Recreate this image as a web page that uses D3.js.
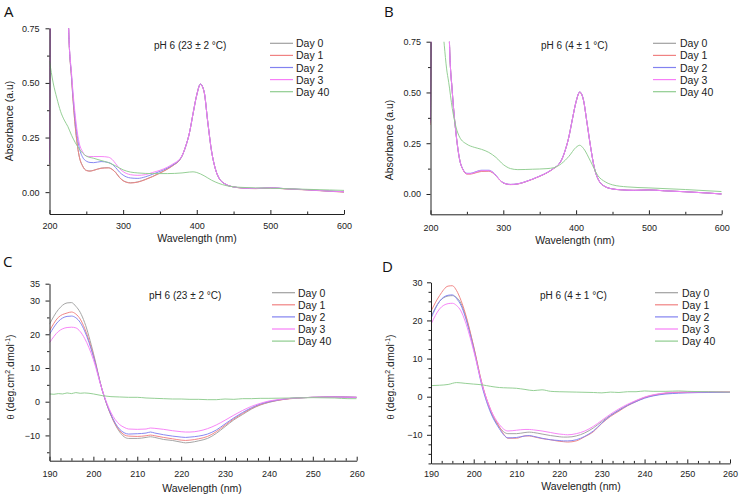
<!DOCTYPE html>
<html><head><meta charset="utf-8">
<script src="https://cdn.jsdelivr.net/npm/d3@7"></script>
<style>
body{margin:0;background:#fff;}
svg{display:block;font-family:"Liberation Sans",Arial,sans-serif;}
</style></head>
<body><svg id="chart" width="740" height="499"></svg>
<script>
// ---------------- DATA ----------------
const seriesNames = ["Day 0","Day 1","Day 2","Day 3","Day 40"];
const seriesColors = ["#a0a0a0","#f08282","#8282f0","#f77ff7","#8fcc8f"];

// UV-Vis wavelength grid (nm) for Day 0-3
const wlUV = [200,202,224,226,230,235,240,245,250,255,260,270,280,285,290,295,300,310,320,330,340,350,360,370,375,380,385,390,395,400,405,410,415,420,425,430,440,450,460,480,500,520,550,580,600];

// Panel A: pH 6 (23 ± 2 °C), absorbance
const absA_day0 = [0.13,1.2,1.2,0.75,0.52,0.30,0.17,0.12,0.10,0.097,0.10,0.11,0.112,0.105,0.09,0.068,0.053,0.043,0.047,0.058,0.072,0.088,0.106,0.128,0.14,0.165,0.21,0.27,0.36,0.445,0.495,0.46,0.32,0.19,0.11,0.065,0.034,0.024,0.02,0.017,0.02,0.016,0.011,0.005,0.001];
const absA_day1 = [0.12,1.2,1.2,0.75,0.52,0.30,0.17,0.119,0.099,0.096,0.10,0.109,0.111,0.104,0.089,0.067,0.052,0.042,0.046,0.057,0.071,0.087,0.105,0.127,0.14,0.166,0.21,0.27,0.36,0.445,0.493,0.458,0.32,0.19,0.11,0.066,0.035,0.024,0.019,0.016,0.019,0.015,0.01,0.004,0.0];
const absA_day2 = [0.13,1.2,1.2,0.75,0.53,0.33,0.21,0.16,0.142,0.136,0.135,0.14,0.136,0.128,0.112,0.092,0.078,0.065,0.063,0.07,0.082,0.095,0.11,0.13,0.142,0.166,0.21,0.27,0.36,0.445,0.494,0.46,0.32,0.19,0.11,0.066,0.035,0.024,0.02,0.017,0.02,0.016,0.011,0.005,0.002];
const absA_day3 = [0.14,1.2,1.2,0.75,0.54,0.35,0.23,0.185,0.165,0.163,0.163,0.163,0.16,0.15,0.13,0.108,0.094,0.08,0.077,0.08,0.09,0.10,0.114,0.134,0.145,0.167,0.21,0.27,0.36,0.445,0.494,0.46,0.32,0.19,0.11,0.066,0.035,0.024,0.02,0.017,0.02,0.016,0.011,0.005,0.002];
const wlA_day40 = [200,205,210,215,220,225,230,240,250,260,270,280,290,300,310,320,340,360,380,390,395,400,410,420,430,440,460,500,550,580,600];
const absA_day40 = [0.60,0.50,0.43,0.37,0.33,0.30,0.26,0.20,0.165,0.155,0.145,0.135,0.12,0.102,0.092,0.088,0.085,0.085,0.088,0.092,0.093,0.09,0.075,0.055,0.04,0.03,0.022,0.018,0.013,0.01,0.008];

// Panel B: pH 6 (4 ± 1 °C), absorbance
const absB_day0 = [0.35,1.2,1.2,0.75,0.50,0.30,0.17,0.118,0.10,0.10,0.104,0.113,0.114,0.107,0.09,0.07,0.055,0.047,0.05,0.06,0.073,0.088,0.105,0.128,0.142,0.168,0.215,0.28,0.37,0.455,0.503,0.465,0.35,0.23,0.13,0.075,0.036,0.025,0.021,0.018,0.02,0.016,0.011,0.005,0.0];
const absB_day1 = [0.34,1.2,1.2,0.75,0.50,0.30,0.17,0.117,0.098,0.098,0.102,0.111,0.112,0.105,0.089,0.069,0.054,0.046,0.049,0.059,0.072,0.087,0.104,0.127,0.141,0.167,0.214,0.28,0.37,0.455,0.500,0.463,0.35,0.23,0.13,0.075,0.036,0.025,0.021,0.018,0.02,0.016,0.011,0.005,0.0];
const absB_day2 = [0.36,1.2,1.2,0.75,0.50,0.30,0.17,0.119,0.102,0.102,0.107,0.117,0.117,0.109,0.091,0.07,0.055,0.047,0.05,0.06,0.073,0.088,0.105,0.128,0.142,0.168,0.215,0.28,0.37,0.455,0.502,0.465,0.35,0.23,0.13,0.075,0.036,0.025,0.021,0.018,0.02,0.016,0.011,0.005,0.0];
const absB_day3 = [0.35,1.2,1.2,0.75,0.50,0.30,0.17,0.118,0.10,0.10,0.105,0.115,0.115,0.108,0.09,0.07,0.055,0.047,0.05,0.06,0.073,0.088,0.105,0.128,0.142,0.168,0.215,0.28,0.37,0.455,0.502,0.465,0.35,0.23,0.13,0.075,0.036,0.025,0.021,0.018,0.02,0.016,0.011,0.005,0.0];
const wlB_day40 = [216,219,222,225,230,235,240,250,260,270,280,290,300,310,320,340,360,370,380,390,400,405,410,420,430,440,450,470,500,550,600];
const absB_day40 = [0.85,0.73,0.62,0.55,0.42,0.33,0.28,0.245,0.23,0.22,0.205,0.18,0.145,0.125,0.12,0.122,0.125,0.13,0.15,0.185,0.23,0.24,0.225,0.16,0.09,0.06,0.045,0.035,0.03,0.022,0.012];

// CD wavelength grid (nm) for Day 0-3
const wlCD = [190,192,194,195,196,197,198,200,202,204,206,207,208,210,212,213,214,216,218,220,221,222,224,226,228,230,232,234,236,238,240,242,245,248,250,255,260];

// Panel C: pH 6 (23 ± 2 °C), ellipticity
const cdC_day0 = [23,27.3,29.3,29.4,28.3,26.5,23.5,14.4,3.5,-4,-9,-10.4,-10.9,-10.9,-10.6,-10.4,-10.6,-11.2,-11.5,-12,-12.2,-12.1,-11.6,-10.9,-9.4,-7.4,-5.4,-3.8,-2.2,-1,-0.2,0.4,1,1.2,1.3,1.5,1.3];
const cdC_day1 = [21,25,26.3,26.6,26,24.5,21.8,13.8,3.5,-4,-8.6,-9.8,-10.2,-10.3,-10.1,-9.9,-10.1,-10.6,-11,-11.4,-11.5,-11.4,-11,-10.3,-8.9,-7,-5.1,-3.5,-2,-0.9,-0.1,0.4,0.9,1.2,1.3,1.4,1.3];
const cdC_day2 = [20,23.8,25.3,25.4,24.9,23.5,21,13.4,3.5,-3.8,-8.2,-9.2,-9.6,-9.5,-9.3,-9,-9.3,-9.8,-10.2,-10.5,-10.6,-10.5,-10.2,-9.6,-8.4,-6.6,-4.8,-3.2,-1.8,-0.7,0,0.5,1,1.2,1.3,1.4,1.3];
const cdC_day3 = [17.5,20.8,22,22.1,21.9,20.8,18.8,12.5,3.5,-3.2,-6.8,-7.6,-8.1,-8.2,-8.1,-7.8,-7.9,-8.2,-8.6,-8.9,-9,-9,-8.7,-8,-6.9,-5.5,-4,-2.6,-1.4,-0.5,0.2,0.6,1,1.2,1.3,1.4,1.3];
const wlC_day40 = [190,191,192,193,194,195,196,197,198,200,202,204,206,208,210,212,214,216,218,220,222,224,226,228,230,232,234,236,238,240,245,250,255,258,260];
const cdC_day40 = [2.3,2.2,2.4,2.3,2.6,2.4,2.7,2.5,2.6,2.3,1.8,1.5,1.4,1.3,1.3,1.1,1.0,0.9,0.8,0.8,0.7,0.7,0.6,0.6,0.8,0.7,0.9,0.9,1.0,1.0,1.1,1.2,1.1,0.9,0.9];

// Panel D: pH 6 (4 ± 1 °C), ellipticity
const cdD_day0 = [21,25,26.4,26.5,26,24.5,21.5,13,3,-4,-8,-9.2,-9.7,-9.7,-9.4,-9.3,-9.4,-9.8,-10.2,-10.5,-10.6,-10.6,-10.3,-9.5,-8.2,-6.5,-4.9,-3.5,-2.2,-1.1,-0.2,0.4,0.9,1.1,1.2,1.2,1.2];
const cdD_day1 = [22.4,26.5,29,29.1,27.8,25.3,22,13.1,3.2,-3.5,-7.9,-9.8,-10.9,-10.9,-10.3,-10.3,-10.5,-11,-11.3,-11.7,-11.8,-11.9,-11.6,-10.5,-9.2,-7,-5.2,-3.8,-2.4,-1.3,-0.3,0.3,0.9,1.1,1.1,1.2,1.2];
const cdD_day2 = [20.5,25,26.6,26.7,25.7,24,21,12.5,2.5,-4.3,-8.4,-10,-10.8,-10.7,-10.3,-10.2,-10.4,-10.9,-11.3,-11.5,-11.6,-11.6,-11.3,-10.4,-9,-6.9,-5,-3.6,-2.3,-1.3,-0.4,0.2,0.7,0.9,1,1.1,1.1];
const cdD_day3 = [19,23,24.4,24.5,23.9,22.5,19.8,12,3,-3.5,-7.3,-8.5,-9,-8.8,-8.6,-8.6,-8.7,-9,-9.4,-9.8,-9.9,-10,-9.7,-9,-7.8,-6.2,-4.6,-3.2,-2,-1,-0.1,0.5,1,1.2,1.2,1.3,1.2];
const wlD_day40 = [190,192,194,196,198,200,202,204,206,208,210,212,214,216,218,220,224,228,230,232,234,236,238,240,242,245,248,250,255,260];
const cdD_day40 = [2.9,3.0,3.2,3.7,3.5,3.3,3.1,2.7,2.4,2.3,2.2,1.9,1.6,1.8,1.4,1.3,1.2,1.1,1.0,1.2,1.1,1.3,1.3,1.5,1.4,1.4,1.5,1.4,1.3,1.2];

// Axis ticks
const uvXTicks = [200,300,400,500,600];
const uvXMinor = [250,350,450,550];
const uvYTicks = [0,0.25,0.5,0.75];
const uvYMinor = [0.125,0.375,0.625];
const cdXTicks = [190,200,210,220,230,240,250,260];
const cdXMinor = [192.5,195,197.5,202.5,205,207.5,212.5,215,217.5,222.5,225,227.5,232.5,235,237.5,242.5,245,247.5,252.5,255,257.5];
const cdCYTicks = [35,30,20,10,0,-10];
const cdCYMinor = [25,15,5,-5,-15];
const cdDYTicks = [30,20,10,0,-10];
const cdDYMinor = [27.5,25,22.5,17.5,15,12.5,7.5,5,2.5,-2.5,-5,-7.5,-12.5,-15,-17.5];

// ---------------- DRAW ----------------
const svg = d3.select("#chart");

function zip(xs, ys){ return xs.map((x,i)=>[x,ys[i]]); }

const panels = [
 {id:"A", letter:[4,17], title:"pH 6 (23 ± 2 °C)", titlePos:[154,49],
  x:[49.5,344], y:[214,28.3], xd:[200,600], yd:[-0.1,0.75],
  xt:uvXTicks, xm:uvXMinor, yt:uvYTicks, ym:uvYMinor, yfmt:d3.format(".2f"),
  xpad:9, ypad:6, yTitle:"Absorbance (a.u)", yTitlePos:[13,121], xTitlePos:[197,242],
  leg:[270,296,43.3],
  series:[zip(wlUV,absA_day0),zip(wlUV,absA_day1),zip(wlUV,absA_day2),zip(wlUV,absA_day3),zip(wlA_day40,absA_day40)]},
 {id:"B", letter:[384,17], title:"pH 6 (4 ± 1 °C)", titlePos:[541,49],
  x:[430.5,721.7], y:[214.3,41.7], xd:[200,600], yd:[-0.1,0.75],
  xt:uvXTicks, xm:uvXMinor, yt:uvYTicks, ym:uvYMinor, yfmt:d3.format(".2f"),
  xpad:10, ypad:5.5, yTitle:"Absorbance (a.u)", yTitlePos:[393,140], xTitlePos:[575,244],
  leg:[653,680,43.3],
  series:[zip(wlUV,absB_day0),zip(wlUV,absB_day1),zip(wlUV,absB_day2),zip(wlUV,absB_day3),zip(wlB_day40,absB_day40)]},
 {id:"C", letter:[3,267], title:"pH 6 (23 ± 2 °C)", titlePos:[149,299],
  x:[49.5,356.7], y:[460.7,283.7], xd:[190,260], yd:[-17.5,35],
  xt:cdXTicks, xm:cdXMinor, yt:cdCYTicks, ym:cdCYMinor, yfmt:d3.format("d"),
  xpad:10, ypad:5.5, yTitle:"cd", yTitlePos:[14,377], xTitlePos:[202,492],
  leg:[272,298,292.7],
  series:[zip(wlCD,cdC_day0),zip(wlCD,cdC_day1),zip(wlCD,cdC_day2),zip(wlCD,cdC_day3),zip(wlC_day40,cdC_day40)]},
 {id:"D", letter:[382,272], title:"pH 6 (4 ± 1 °C)", titlePos:[540,299],
  x:[431,730], y:[463.4,282.3], xd:[190,260], yd:[-17.5,30],
  xt:cdXTicks, xm:cdXMinor, yt:cdDYTicks, ym:cdDYMinor, yfmt:d3.format("d"),
  xpad:7, ypad:4.5, yTitle:"cd", yTitlePos:[394,377], xTitlePos:[581,490],
  leg:[655,682,292.7],
  series:[zip(wlCD,cdD_day0),zip(wlCD,cdD_day1),zip(wlCD,cdD_day2),zip(wlCD,cdD_day3),zip(wlD_day40,cdD_day40)]}
];

panels.forEach(p=>{
  const x = d3.scaleLinear().domain(p.xd).range(p.x);
  const y = d3.scaleLinear().domain(p.yd).range(p.y);
  const g = svg.append("g");

  // clip
  const cid = "clip"+p.id;
  svg.append("clipPath").attr("id",cid).append("rect")
    .attr("x",p.x[0]).attr("y",p.y[1]).attr("width",p.x[1]-p.x[0]).attr("height",p.y[0]-p.y[1]);

  // lines
  const line = d3.line().x(d=>x(d[0])).y(d=>y(d[1])).curve(d3.curveMonotoneX);
  const lg = g.append("g").attr("clip-path",`url(#${cid})`);
  p.series.forEach((s,i)=>{
    lg.append("path").attr("d",line(s)).attr("fill","none")
      .attr("stroke",seriesColors[i]).attr("stroke-width",1).attr("stroke-opacity",0.95);
  });

  // x axis (ticks inward)
  g.append("g").attr("transform",`translate(0,${p.y[0]})`)
    .call(d3.axisBottom(x).tickValues(p.xt).tickSize(-4).tickPadding(p.xpad).tickSizeOuter(0).tickFormat(d3.format("d")));
  g.append("g").attr("transform",`translate(0,${p.y[0]})`)
    .call(d3.axisBottom(x).tickValues(p.xm).tickSize(-2.5).tickSizeOuter(0).tickFormat(""))
    .select(".domain").remove();
  // y axis (ticks outward)
  g.append("g").attr("transform",`translate(${p.x[0]},0)`)
    .call(d3.axisLeft(y).tickValues(p.yt).tickSize(4).tickPadding(p.ypad).tickSizeOuter(0).tickFormat(p.yfmt));
  g.append("g").attr("transform",`translate(${p.x[0]},0)`)
    .call(d3.axisLeft(y).tickValues(p.ym).tickSize(2.5).tickSizeOuter(0).tickFormat(""))
    .select(".domain").remove();
  g.selectAll(".tick text").attr("font-size",9).attr("fill","#222").attr("font-family","Liberation Sans, Arial, sans-serif");
  g.selectAll(".domain").attr("stroke","#222");
  g.selectAll(".tick line").attr("stroke","#222");

  // axis titles
  g.append("text").attr("x",p.xTitlePos[0]).attr("y",p.xTitlePos[1]).attr("text-anchor","middle")
    .attr("font-size",10.5).attr("fill","#222").text("Wavelength (nm)");
  const yt = g.append("text").attr("transform",`translate(${p.yTitlePos[0]},${p.yTitlePos[1]}) rotate(-90)`)
    .attr("text-anchor","middle").attr("font-size",10.5).attr("fill","#222");
  if(p.yTitle==="cd"){
    yt.append("tspan").attr("font-size",9).text("θ");
    yt.append("tspan").text(" (deg.cm");
    yt.append("tspan").attr("font-size",7).attr("dy",-4).text("2");
    yt.append("tspan").attr("dy",4).text(".dmol");
    yt.append("tspan").attr("font-size",7).attr("dy",-4).text("-1");
    yt.append("tspan").attr("dy",4).text(")");
  } else {
    yt.text(p.yTitle);
  }

  // panel letter
  g.append("text").attr("x",p.letter[0]).attr("y",p.letter[1]).attr("font-size",15)
    .attr("font-family","Open Sans, Liberation Sans, sans-serif").attr("fill","#111").text(p.id);

  // condition title
  g.append("text").attr("x",p.titlePos[0]).attr("y",p.titlePos[1]).attr("font-size",10)
    .attr("fill","#222").text(p.title);

  // legend
  seriesNames.forEach((n,i)=>{
    const yy = p.leg[2] + i*12.1;
    g.append("line").attr("x1",p.leg[0]).attr("x2",p.leg[0]+23).attr("y1",yy).attr("y2",yy)
      .attr("stroke",seriesColors[i]).attr("stroke-width",1.2);
    g.append("text").attr("x",p.leg[1]).attr("y",yy+4).attr("font-size",10.5).attr("fill","#222").text(n);
  });
});
</script>
</body></html>
